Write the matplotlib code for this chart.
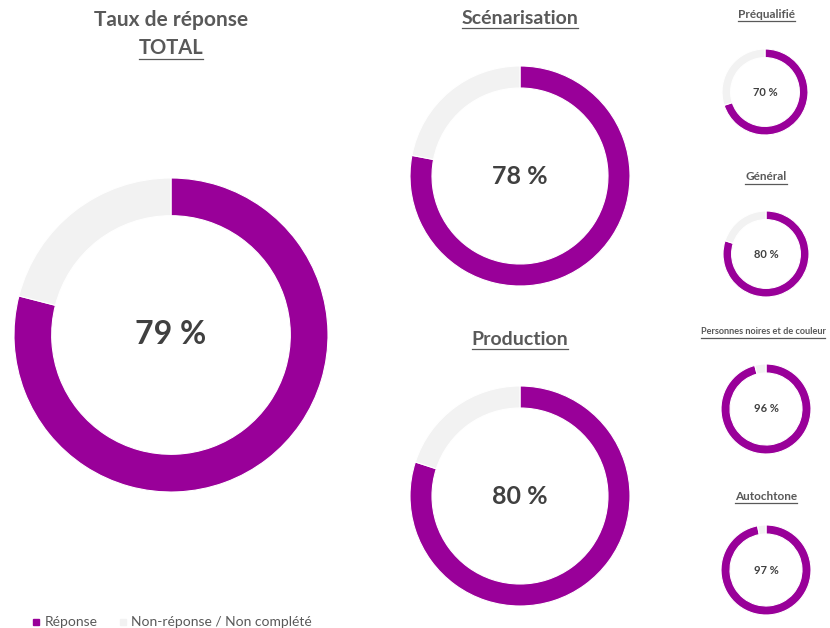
import matplotlib
matplotlib.use("Agg")
import matplotlib.pyplot as plt
from matplotlib.lines import Line2D

plt.rcParams['font.family'] = ['Lato', 'DejaVu Sans']

# response rates (%) per group
groups = ["TOTAL", "Scénarisation", "Production", "Préqualifié", "Général",
          "Personnes noires et de couleur", "Autochtone"]
reponse = [79, 78, 80, 70, 80, 96, 97]
legend_labels = ["Réponse", "Non-réponse / Non complété"]

PURPLE = "#990099"
GREY = "#F2F2F2"
TXT = "#595959"
DARK = "#404040"

W, H = 830, 628
fig = plt.figure(figsize=(W / 100, H / 100), dpi=100)

# layout in pixels: (cx, cy, radius, ring width fraction, center font, title x, title y, title font)
layout = [
    (171, 335, 157, 0.24, 23, 171, 48, 14.5),
    (520, 176, 110, 0.20, 18, 520, 18, 14),
    (520, 496, 110, 0.20, 18, 520, 339, 14),
    (765, 92, 43, 0.20, 8, 766, 14, 8.5),
    (766, 254, 43, 0.20, 8, 766, 177, 8.5),
    (766, 409, 45, 0.20, 8, 763, 332, 6.6),
    (766, 570, 45, 0.20, 8, 766, 496, 8.5),
]

underlined = []
for name, val, (cx, cy, r, w, fs, tx, ty, tfs) in zip(groups, reponse, layout):
    ax = fig.add_axes([(cx - r) / W, 1 - (cy + r) / H, 2 * r / W, 2 * r / H])
    ax.pie([val, 100 - val], colors=[PURPLE, GREY], startangle=90, counterclock=False,
           wedgeprops=dict(width=w, edgecolor="white", linewidth=0.8))
    ax.set_xlim(-1, 1)
    ax.set_ylim(-1, 1)
    ax.set_aspect("equal")
    ax.axis("off")
    ax.text(0, 0, f"{val} %", ha="center", va="center", fontsize=fs,
            fontweight="bold", color=DARK)
    t = fig.text(tx / W, 1 - ty / H, name, ha="center", va="center",
                 fontsize=tfs, fontweight="bold", color=TXT)
    underlined.append(t)

fig.text(171 / W, 1 - 20 / H, "Taux de réponse", ha="center", va="center",
         fontsize=15, fontweight="bold", color=TXT)

# legend
handles = [Line2D([], [], marker="s", linestyle="", markersize=5, color=c)
           for c in [PURPLE, GREY]]
fig.legend(handles, legend_labels, loc="lower left", bbox_to_anchor=(17 / W, -13 / H),
           ncol=2, frameon=False, fontsize=10, labelcolor=TXT, handletextpad=0.1,
           columnspacing=1.3, handlelength=1)

# underline the titles
fig.canvas.draw()
renderer = fig.canvas.get_renderer()
for t in underlined:
    bb = t.get_window_extent(renderer)
    y = bb.y0 - 1
    fig.add_artist(Line2D([bb.x0 / W, bb.x1 / W], [y / H, y / H],
                         transform=fig.transFigure, color=TXT, linewidth=0.9))

fig.savefig("out.png", dpi=100)
